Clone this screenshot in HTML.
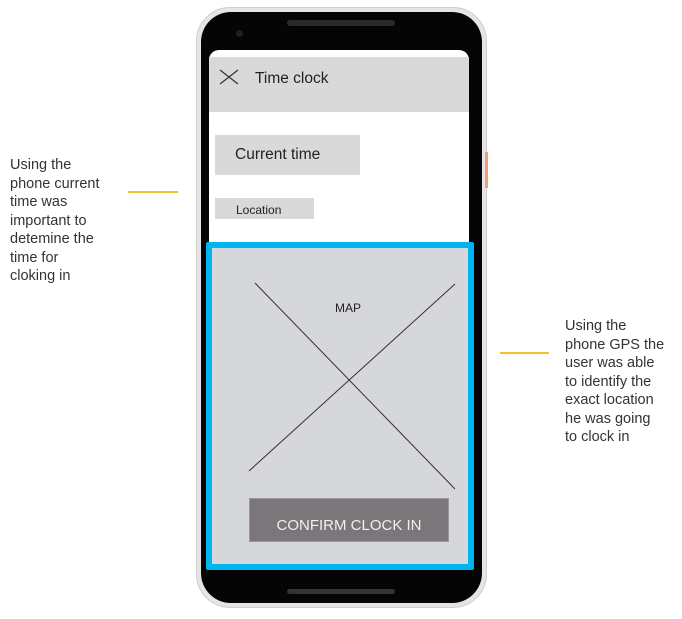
<!DOCTYPE html>
<html><head><style>
body{margin:0;width:682px;height:619px;background:#fff;position:relative;overflow:hidden;font-family:"Liberation Sans",sans-serif}
div{position:absolute;box-sizing:border-box}
.note{font-size:14.5px;line-height:18.5px;color:#333}
</style></head><body>
<div style="left:196px;top:7px;width:291px;height:601px;border-radius:34px;background:#e6e4e6;border:1px solid #cfcfcf"></div>
<div style="left:201px;top:12px;width:281px;height:591px;border-radius:30px;background:#050505"></div>
<div style="left:287px;top:20px;width:108px;height:6px;border-radius:3px;background:#2a2a2a"></div>
<div style="left:236px;top:30px;width:7px;height:7px;border-radius:50%;background:#1a1f2a"></div>
<div style="left:287px;top:589px;width:108px;height:5px;border-radius:3px;background:#333"></div>
<div style="left:485px;top:152px;width:3px;height:36px;background:#f0a070"></div>
<div style="left:209px;top:50px;width:260px;height:200px;border-radius:10px 10px 0 0;background:#fff"></div>
<div style="left:209px;top:57px;width:260px;height:55px;background:#d9d9d9"></div>
<svg style="position:absolute;left:219px;top:69px" width="20" height="16"><path d="M1 1L19 15M19 1L1 15" stroke="#333" stroke-width="1.2"/></svg>
<div style="left:255px;top:70px;font-size:15.5px;color:#222">Time clock</div>
<div style="left:215px;top:135px;width:145px;height:40px;background:#d9d9d9"></div>
<div style="left:235px;top:146px;font-size:15.5px;color:#222">Current time</div>
<div style="left:215px;top:198px;width:99px;height:21px;background:#d9d9d9"></div>
<div style="left:236px;top:203px;font-size:12px;color:#222">Location</div>
<div style="left:206px;top:242px;width:268px;height:328px;border:6px solid #00b4f0;background:#d6d7db;border-radius:2px"></div>
<svg style="position:absolute;left:0;top:0" width="682" height="619"><path d="M255 283L455 489M455 284L249 471" stroke="#333" stroke-width="1"/></svg>
<div style="left:335px;top:301px;font-size:12px;color:#222">MAP</div>
<div style="left:249px;top:498px;width:200px;height:44px;background:#7b7679;border:1px solid #999;color:#f0f0f0;font-size:15px;text-align:center;line-height:54px">CONFIRM CLOCK IN</div>
<div class="note" style="left:10px;top:156px">Using the<br>phone current<br>time was<br>important to<br>detemine the<br>time for<br>cloking in</div>
<div style="left:128px;top:191px;width:50px;height:2px;background:#f5c030"></div>
<div class="note" style="left:565px;top:317px">Using the<br>phone GPS the<br>user was able<br>to identify the<br>exact location<br>he was going<br>to clock in</div>
<div style="left:500px;top:352px;width:49px;height:2px;background:#f5c030"></div>
</body></html>
